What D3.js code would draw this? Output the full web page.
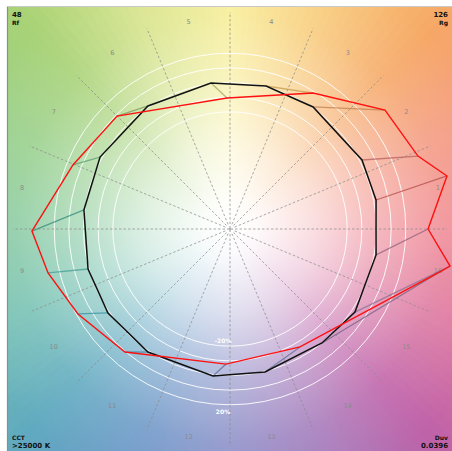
<!DOCTYPE html>
<html><head><meta charset="utf-8">
<script src="https://cdn.jsdelivr.net/npm/d3@7"></script>
<style>html,body{margin:0;padding:0;background:#fff;}svg{display:block;}</style>
</head><body>
<script>
// ---- data (normalized chroma coordinates, reference circle = 1) ----
const bins = ["1","2","3","4","5","6","7","8","9","10","11","12","13","14","15","16"];
const refX  = [0.997, 0.901, 0.567, 0.246, -0.130, -0.560, -0.887, -0.997, -0.969, -0.833, -0.560, -0.116, 0.239, 0.628, 0.853, 0.997];
const refY  = [0.198, 0.471, 0.833, 0.976, 0.997, 0.840, 0.491, 0.130, -0.273, -0.573, -0.840, -1.003, -0.976, -0.778, -0.567, -0.177];
const testX = [1.481, 1.283, 1.058, 0.567, -0.020, -0.771, -1.072, -1.352, -1.242, -1.038, -0.717, -0.027, 0.478, 1.454, 1.502, 1.352];
const testY = [0.362, 0.498, 0.812, 0.928, 0.894, 0.771, 0.437, -0.014, -0.300, -0.580, -0.840, -0.922, -0.805, -0.280, -0.253, 0.000];
const binColors = ["#e62828","#e74b4b","#fb812e","#ffb529","#cbca46","#7eb94c","#41c06d","#009c7c","#16bcb0","#00a4bf","#0085c3","#3b62aa","#4568ae","#6a4e85","#9d69a1","#a74f81"];
const rings = [0.8, 0.9, 1.0, 1.1, 1.2];
const ringLabels = [{v:0.8, t:"-20%"}, {v:1.2, t:"20%"}];
const corners = {rf:"48", rg:"126", cct:">25000 K", duv:"0.0396"};
// background hue anchors (angle deg, colour)
const hueAngles = [0, 22.5, 45, 67.5, 90, 112.5, 135, 157.5, 180, 202.5, 225, 247.5, 270, 292.5, 315, 337.5, 360];
const hueColors = ["#f08c96","#f49a84","#f6a866","#f8cc7c","#f8ee98","#d8e48c","#a8d276","#98d08c","#8ccca4","#78c2b4","#60aac0","#6e98c8","#8c90c8","#a47cbc","#c062a8","#de78a0","#f08c96"];

const W = 452, H = 451;
const cx = 230, cy = 229, unit = 146.5;
const sx = d3.scaleLinear().domain([-1,1]).range([cx-unit, cx+unit]);
const sy = d3.scaleLinear().domain([-1,1]).range([cy+unit, cy-unit]);

const svg = d3.select("body").append("svg").attr("width", W).attr("height", H);
const defs = svg.append("defs");
defs.append("clipPath").attr("id","clip").append("rect").attr("x",7).attr("y",6).attr("width",W-7).attr("height",H-6);

const g = svg.append("g").attr("clip-path","url(#clip)");

// background colour wheel
const hueScale = d3.scaleLinear().domain(hueAngles).range(hueColors).interpolate(d3.interpolateRgb);
const arc = d3.arc().innerRadius(0).outerRadius(340);
const steps = d3.range(0, 360, 2);
g.append("g").attr("transform",`translate(${cx},${cy})`).selectAll("path").data(steps).join("path")
  .attr("d", a => arc({startAngle: (90 - a - 1.2) * Math.PI/180, endAngle: (90 - a + 1.2) * Math.PI/180}))
  .attr("fill", a => hueScale(a));
const rg = defs.append("radialGradient").attr("id","wg").attr("gradientUnits","userSpaceOnUse")
  .attr("cx",cx).attr("cy",cy).attr("r",330);
[[0,1],[0.08,0.95],[0.25,0.72],[0.45,0.38],[0.65,0.12],[0.85,0.0]].forEach(([o,a]) =>
  rg.append("stop").attr("offset",o).attr("stop-color","#fff").attr("stop-opacity",a));
g.append("rect").attr("x",0).attr("y",0).attr("width",W).attr("height",H).attr("fill","url(#wg)");

// rings
g.selectAll("circle.ring").data(rings).join("circle").attr("class","ring")
  .attr("cx",cx).attr("cy",cy).attr("r", d => sx(d) - cx)
  .attr("fill","none").attr("stroke","#fff").attr("stroke-width",1).attr("stroke-opacity",0.9);

// radial dashed lines
const rad = d3.range(16).map(i => i*22.5*Math.PI/180);
g.selectAll("line.rad").data(rad).join("line")
  .attr("x1", a => cx + 5*Math.cos(a)).attr("y1", a => cy - 5*Math.sin(a))
  .attr("x2", a => cx + 217*Math.cos(a)).attr("y2", a => cy - 217*Math.sin(a))
  .attr("stroke","#8a8a8a").attr("stroke-width",0.9).attr("stroke-dasharray","2.5,2").attr("stroke-opacity",0.8);
// centre cross
g.append("line").attr("x1",cx-3).attr("x2",cx+3).attr("y1",cy).attr("y2",cy).attr("stroke","#999");
g.append("line").attr("x1",cx).attr("x2",cx).attr("y1",cy-3).attr("y2",cy+3).attr("stroke","#999");

// bin labels
g.selectAll("text.bin").data(bins).join("text")
  .attr("x",(d,i)=> cx + 212*Math.cos((i+0.5)*22.5*Math.PI/180))
  .attr("y",(d,i)=> cy - 212*Math.sin((i+0.5)*22.5*Math.PI/180) + 2.5)
  .attr("text-anchor","middle").attr("font-family","DejaVu Sans, sans-serif").attr("font-size",6.5)
  .attr("fill","#8a8a8a").text(d=>d);

// ring labels
g.selectAll("text.rl").data(ringLabels).join("text")
  .attr("x", cx-7).attr("y", d => d.v < 1 ? sy(-d.v) - 3 : sy(-d.v) + 9)
  .attr("text-anchor","middle").attr("font-family","DejaVu Sans, sans-serif").attr("font-size",6)
  .attr("font-weight","bold").attr("fill","#fff").text(d=>d.t);

// connecting lines
const idx = d3.range(16);
g.selectAll("line.conn").data(idx).join("line")
  .attr("x1", i => sx(refX[i])).attr("y1", i => sy(refY[i]))
  .attr("x2", i => sx(testX[i])).attr("y2", i => sy(testY[i]))
  .attr("stroke", i => d3.interpolateRgb(binColors[i], "#777")(0.45)).attr("stroke-width",1.3).attr("stroke-opacity",0.75);

const line = d3.line().x(i => sx(refX[i])).y(i => sy(refY[i])).curve(d3.curveLinearClosed);
const line2 = d3.line().x(i => sx(testX[i])).y(i => sy(testY[i])).curve(d3.curveLinearClosed);
g.append("path").attr("d", line(idx)).attr("fill","none").attr("stroke","#111").attr("stroke-width",1.5);
g.append("path").attr("d", line2(idx)).attr("fill","none").attr("stroke","#ff1010").attr("stroke-width",1.4);

// border
svg.append("line").attr("x1",7.5).attr("x2",7.5).attr("y1",6).attr("y2",H).attr("stroke","#8c8c8c").attr("stroke-width",1.2);
svg.append("line").attr("x1",7).attr("x2",W).attr("y1",6.5).attr("y2",6.5).attr("stroke","#c8c8c8").attr("stroke-width",1);

// corner texts
const ct = svg.append("g").attr("font-family","DejaVu Sans, sans-serif").attr("font-weight","bold").attr("fill","#111");
ct.append("text").attr("x",12).attr("y",17).attr("font-size",7).text(corners.rf);
ct.append("text").attr("x",12).attr("y",25).attr("font-size",6).text("Rf");
ct.append("text").attr("x",448).attr("y",17).attr("font-size",7).attr("text-anchor","end").text(corners.rg);
ct.append("text").attr("x",448).attr("y",25).attr("font-size",6).attr("text-anchor","end").text("Rg");
ct.append("text").attr("x",12).attr("y",440).attr("font-size",6).text("CCT");
ct.append("text").attr("x",12).attr("y",448).attr("font-size",7).text(corners.cct);
ct.append("text").attr("x",448).attr("y",440).attr("font-size",6).attr("text-anchor","end").text("Duv");
ct.append("text").attr("x",448).attr("y",448).attr("font-size",7).attr("text-anchor","end").text(corners.duv);
</script>
</body></html>
